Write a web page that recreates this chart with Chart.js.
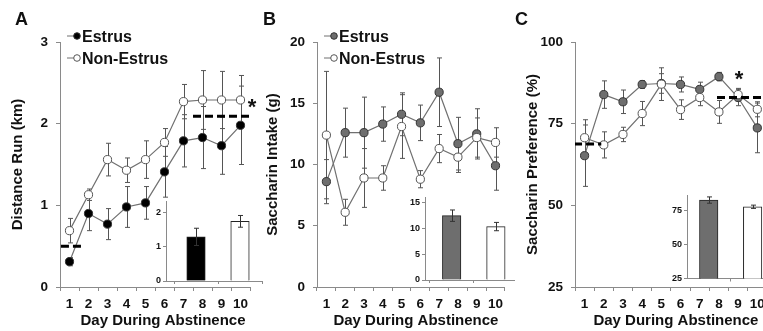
<!DOCTYPE html>
<html>
<head>
<meta charset="utf-8">
<script src="https://cdn.jsdelivr.net/npm/chart.js@4/dist/chart.umd.min.js"></script>
<style>
  html, body { margin: 0; padding: 0; background: #fff; overflow: hidden; }
  #wrap { position: relative; width: 763px; height: 331px; overflow: hidden; background: #fff; }
  #wrap canvas { position: absolute; }
</style>
</head>
<body>
<div id="wrap">
  <canvas id="mainA" width="262" height="331" style="left:0;top:0"></canvas>
  <canvas id="mainB" width="254" height="331" style="left:256px;top:0"></canvas>
  <canvas id="mainC" width="262" height="331" style="left:510px;top:0"></canvas>
  <canvas id="insetA" width="128" height="100" style="left:136px;top:190px"></canvas>
  <canvas id="insetB" width="121" height="103" style="left:395px;top:186px"></canvas>
  <canvas id="insetC" width="120" height="104" style="left:657px;top:184px"></canvas>
</div>
<script>
// ---------- data ----------
var days = ['1', '2', '3', '4', '5', '6', '7', '8', '9', '10'];
var groups = ['Estrus', 'Non-Estrus'];

// A: distance run (km)
var distEstrus = [0.31, 0.90, 0.77, 0.98, 1.03, 1.41, 1.79, 1.83, 1.73, 1.98];
var distEstrusErr = [0.05, 0.21, 0.19, 0.25, 0.20, 0.31, 0.32, 0.38, 0.35, 0.48];
var distNonEstrus = [0.69, 1.13, 1.56, 1.43, 1.56, 1.77, 2.27, 2.29, 2.29, 2.29];
var distNonEstrusErr = [0.15, 0.07, 0.20, 0.15, 0.23, 0.17, 0.21, 0.36, 0.35, 0.30];
var distBase = [{ x: 0.55, y: 0.5 }, { x: 1.7, y: 0.5 }];
var distLate = [{ x: 7.5, y: 2.09 }, { x: 10.6, y: 2.09 }];
var distInset = [1.28, 1.73];
var distInsetErr = [0.25, 0.17];
var distTicks = [0, 1, 2, 3];
var distInsetTicks = [0, 1, 2];

// B: saccharin intake (g)
var intakeEstrus = [8.6, 12.6, 12.6, 13.3, 14.1, 13.4, 15.9, 11.7, 12.5, 9.9];
var intakeEstrusErr = [1.8, 2.0, 2.9, 1.4, 1.75, 1.45, 2.8, 2.15, 2.05, 2.0];
var intakeNonEstrus = [12.4, 6.1, 8.9, 8.9, 13.1, 8.8, 11.3, 10.6, 12.2, 11.8];
var intakeNonEstrusErr = [5.2, 1.06, 2.4, 1.0, 2.6, 0.7, 1.15, 1.25, 1.6, 1.2];
var intakeInset = [12.4, 10.3];
var intakeInsetErr = [1.1, 0.8];
var intakeTicks = [0, 5, 10, 15, 20];
var intakeInsetTicks = [0, 5, 10, 15];

// C: saccharin preference (%)
var prefEstrus = [65.2, 83.9, 81.7, 87.0, 87.3, 87.0, 85.5, 89.4, 83.0, 73.7];
var prefEstrusErr = [9.4, 4.2, 3.6, 1.2, 3.0, 2.3, 2.2, 1.3, 2.5, 7.6];
var prefNonEstrus = [70.7, 68.5, 71.7, 78.1, 87.1, 79.3, 83.0, 78.6, 83.9, 79.4];
var prefNonEstrusErr = [5.5, 4.0, 2.2, 3.7, 5.0, 3.0, 2.5, 3.5, 1.9, 2.3];
var prefBase = [{ x: 0.45, y: 68.8 }, { x: 1.87, y: 68.8 }];
var prefLate = [{ x: 7.9, y: 83.0 }, { x: 10.9, y: 83.0 }];
var prefInset = [82.3, 77.4];
var prefInsetErr = [2.3, 1.2];
var prefTicks = [25, 50, 75, 100];
var prefInsetTicks = [25, 50, 75];

// ---------- styles ----------
var FAM = "'Liberation Sans', Arial, sans-serif";
var AXIS = '#8a8a8a';
var INK = '#111';
var LINE = '#707070';
var GRAY = '#6e6e6e';

// error bars drawn from the dataset's own scale
var errorBarPlugin = {
  id: 'errorBars',
  beforeDatasetsDraw: function (chart, args, o) { if (!o.after) draw(chart, o); },
  afterDatasetsDraw: function (chart, args, o) { if (o.after) draw(chart, o); }
};
function draw(chart, o) {
  var ctx = chart.ctx;
  ctx.save();
  ctx.strokeStyle = o.color || '#555';
  ctx.lineWidth = 1;
  chart.data.datasets.forEach(function (ds, i) {
    if (!ds.errors) return;
    var meta = chart.getDatasetMeta(i);
    var ys = chart.scales[meta.yAxisID];
    meta.data.forEach(function (el, j) {
      var v = ds.data[j];
      if (typeof v === 'object') v = v.y;
      var e = ds.errors[j];
      var x = Math.round(el.x) + 0.5;
      var y1 = ys.getPixelForValue(v + e), y2 = ys.getPixelForValue(v - e);
      var c = o.cap || 2.5;
      ctx.beginPath();
      ctx.moveTo(x, y1); ctx.lineTo(x, y2);
      ctx.moveTo(x - c, y1); ctx.lineTo(x + c, y1);
      ctx.moveTo(x - c, y2); ctx.lineTo(x + c, y2);
      ctx.stroke();
    });
  });
  ctx.restore();
}

// panel letter, legend, x title and asterisk
var decorPlugin = {
  id: 'decor',
  afterDraw: function (chart, args, o) {
    var ctx = chart.ctx;
    var area = chart.chartArea;
    ctx.save();
    ctx.fillStyle = INK;
    if (o.letter) {
      ctx.font = 'bold 18px ' + FAM;
      ctx.textAlign = 'left';
      ctx.textBaseline = 'alphabetic';
      ctx.fillText(o.letter.text, o.letter.x, o.letter.y);
    }
    if (o.xTitle) {
      ctx.font = 'bold 15px ' + FAM;
      ctx.textAlign = 'center';
      ctx.textBaseline = 'alphabetic';
      ctx.fillText(o.xTitle.text, (area.left + area.right) / 2 + o.xTitle.dx, o.xTitle.y);
    }
    if (o.legend) {
      var lg = o.legend;
      chart.data.datasets.forEach(function (ds) {
        if (ds.legendRow === undefined) return;
        var y = lg.y + ds.legendRow * lg.dy;
        var cy = y - 6;
        ctx.strokeStyle = LINE;
        ctx.lineWidth = 1;
        ctx.beginPath(); ctx.moveTo(lg.x, cy); ctx.lineTo(lg.x + 8, cy); ctx.stroke();
        ctx.beginPath(); ctx.arc(lg.x + 10, cy, 3.3, 0, Math.PI * 2);
        ctx.fillStyle = ds.pointBackgroundColor; ctx.fill();
        ctx.strokeStyle = ds.pointBorderColor; ctx.stroke();
        ctx.fillStyle = INK;
        ctx.font = 'bold 16px ' + FAM;
        ctx.textAlign = 'left';
        ctx.textBaseline = 'alphabetic';
        ctx.fillText(ds.label, lg.x + 15, y);
      });
    }
    if (o.star) {
      ctx.fillStyle = INK;
      ctx.font = 'bold 22px ' + FAM;
      ctx.textAlign = 'center';
      ctx.textBaseline = 'alphabetic';
      ctx.fillText('*', o.star.x, o.star.y);
    }
    ctx.restore();
  }
};

function fixedTicks(list) {
  return function (s) { s.ticks = list.filter(function (v) { return v >= s.min - 1e-9 && v <= s.max + 1e-9; }).map(function (v) { return { value: v }; }); };
}

function mainChart(id, cfg) {
  var datasets = [
    {
      label: groups[0], data: cfg.estrus, errors: cfg.estrusErr, order: 2, legendRow: cfg.legend ? 0 : undefined,
      borderColor: LINE, borderWidth: 1.2, pointRadius: 4.1, pointBorderWidth: 1,
      pointBackgroundColor: cfg.fill, pointBorderColor: '#333', xAxisID: 'x', yAxisID: 'y'
    },
    {
      label: groups[1], data: cfg.nonEstrus, errors: cfg.nonEstrusErr, order: 1, legendRow: cfg.legend ? 1 : undefined,
      borderColor: LINE, borderWidth: 1.2, pointRadius: 4.1, pointBorderWidth: 1,
      pointBackgroundColor: '#fff', pointBorderColor: '#555', xAxisID: 'x', yAxisID: 'y'
    }
  ];
  cfg.dashes.forEach(function (d) {
    datasets.push({ data: d, order: 0, xAxisID: 'xd', yAxisID: 'y', borderColor: '#000', borderWidth: 3,
      borderDash: [8, 4], pointRadius: 0, fill: false });
  });
  return new Chart(document.getElementById(id), {
    type: 'line',
    data: { labels: days, datasets: datasets },
    plugins: [errorBarPlugin, decorPlugin],
    options: {
      responsive: false, animation: false, events: [],
      layout: { padding: { top: 42, right: cfg.padRight, left: 0, bottom: 0 } },
      plugins: {
        legend: { display: false }, tooltip: { enabled: false },
        errorBars: { color: '#555', cap: 2.5 },
        decor: { letter: cfg.letter, legend: cfg.legend, star: cfg.star,
          xTitle: { text: 'Day During Abstinence', dx: cfg.titleDx, y: 325 } }
      },
      scales: {
        x: {
          type: 'category', offset: true,
          grid: { offset: true, drawOnChartArea: false, tickLength: 4, color: AXIS },
          border: { color: AXIS },
          ticks: { font: { family: FAM, size: 13.5, weight: 'bold' }, color: INK, padding: 5, autoSkip: false, maxRotation: 0 },
          afterFit: function (s) { s.height = 44; }
        },
        xd: { type: 'linear', display: false, min: 0.5, max: 10.5 },
        y: {
          min: cfg.ticks[0], max: cfg.ticks[cfg.ticks.length - 1],
          afterBuildTicks: fixedTicks(cfg.ticks),
          grid: { drawOnChartArea: false, tickLength: 4, color: AXIS },
          border: { color: AXIS },
          ticks: { font: { family: FAM, size: 13.5, weight: 'bold' }, color: INK, padding: 8 },
          title: { display: true, text: cfg.yTitle, color: INK, font: { family: FAM, size: 15, weight: 'bold' }, padding: { top: cfg.titlePad } },
          afterFit: function (s) { s.width = cfg.yWidth; }
        }
      }
    }
  });
}

function insetChart(id, cfg) {
  return new Chart(document.getElementById(id), {
    type: 'bar',
    data: {
      datasets: [{
        data: cfg.values.map(function (v, i) { return { x: i + 1, y: v }; }),
        errors: cfg.errors,
        backgroundColor: [cfg.fill, '#fff'], borderColor: '#222', borderWidth: 1,
        barThickness: 18.5
      }]
    },
    plugins: [errorBarPlugin],
    options: {
      responsive: false, animation: false, events: [],
      layout: { padding: { top: cfg.padTop, right: 2, left: 0, bottom: 0 } },
      plugins: { legend: { display: false }, tooltip: { enabled: false }, errorBars: { color: '#333', cap: 2.5, after: true } },
      scales: {
        x: {
          type: 'linear', min: cfg.xmin, max: cfg.xmax, offset: false,
          afterBuildTicks: fixedTicks([0.5, 1.5, 2.5]),
          grid: { offset: false, drawOnChartArea: false, tickLength: 3, color: AXIS },
          border: { color: AXIS },
          ticks: { display: false },
          afterFit: function (s) { s.height = cfg.xHeight; }
        },
        y: {
          min: cfg.ymin, max: cfg.ymax,
          afterBuildTicks: fixedTicks(cfg.ticks),
          grid: { drawOnChartArea: false, tickLength: 3, color: AXIS },
          border: { color: AXIS },
          ticks: { font: { family: FAM, size: 9, weight: 'bold' }, color: INK, padding: 2 },
          afterFit: function (s) { s.width = 30; }
        }
      }
    }
  });
}

mainChart('mainA', {
  estrus: distEstrus, estrusErr: distEstrusErr, nonEstrus: distNonEstrus, nonEstrusErr: distNonEstrusErr,
  fill: '#000', dashes: [distBase, distLate], ticks: distTicks, yTitle: 'Distance Run (km)',
  yWidth: 60, padRight: 12, titlePad: 9, titleDx: 8,
  letter: { text: 'A', x: 15, y: 25 }, legend: { x: 67, y: 42, dy: 22 }, star: { x: 252, y: 114 }
});
mainChart('mainB', {
  estrus: intakeEstrus, estrusErr: intakeEstrusErr, nonEstrus: intakeNonEstrus, nonEstrusErr: intakeNonEstrusErr,
  fill: GRAY, dashes: [], ticks: intakeTicks, yTitle: 'Saccharin Intake (g)',
  yWidth: 61, padRight: 5, titlePad: 8, titleDx: 5,
  letter: { text: 'B', x: 7, y: 25 }, legend: { x: 68, y: 42, dy: 22 }
});
mainChart('mainC', {
  estrus: prefEstrus, estrusErr: prefEstrusErr, nonEstrus: prefNonEstrus, nonEstrusErr: prefNonEstrusErr,
  fill: GRAY, dashes: [prefBase, prefLate], ticks: prefTicks, yTitle: 'Saccharin Preference (%)',
  yWidth: 65, padRight: -5, titlePad: 14, titleDx: 5,
  letter: { text: 'C', x: 5, y: 25 }, star: { x: 229, y: 86 }
});

insetChart('insetA', { values: distInset, errors: distInsetErr, fill: '#000', ymin: 0, ymax: 2.32, ticks: distInsetTicks,
  xmin: 0.318, xmax: 2.5, padTop: 11, xHeight: 9 });
insetChart('insetB', { values: intakeInset, errors: intakeInsetErr, fill: GRAY, ymin: 0, ymax: 16, ticks: intakeInsetTicks,
  xmin: 0.397, xmax: 2.41, padTop: 11, xHeight: 9 });
insetChart('insetC', { values: prefInset, errors: prefInsetErr, fill: GRAY, ymin: 25, ymax: 86, ticks: prefInsetTicks,
  xmin: 0.505, xmax: 2.51, padTop: 11, xHeight: 9.5 });
</script>
</body>
</html>
